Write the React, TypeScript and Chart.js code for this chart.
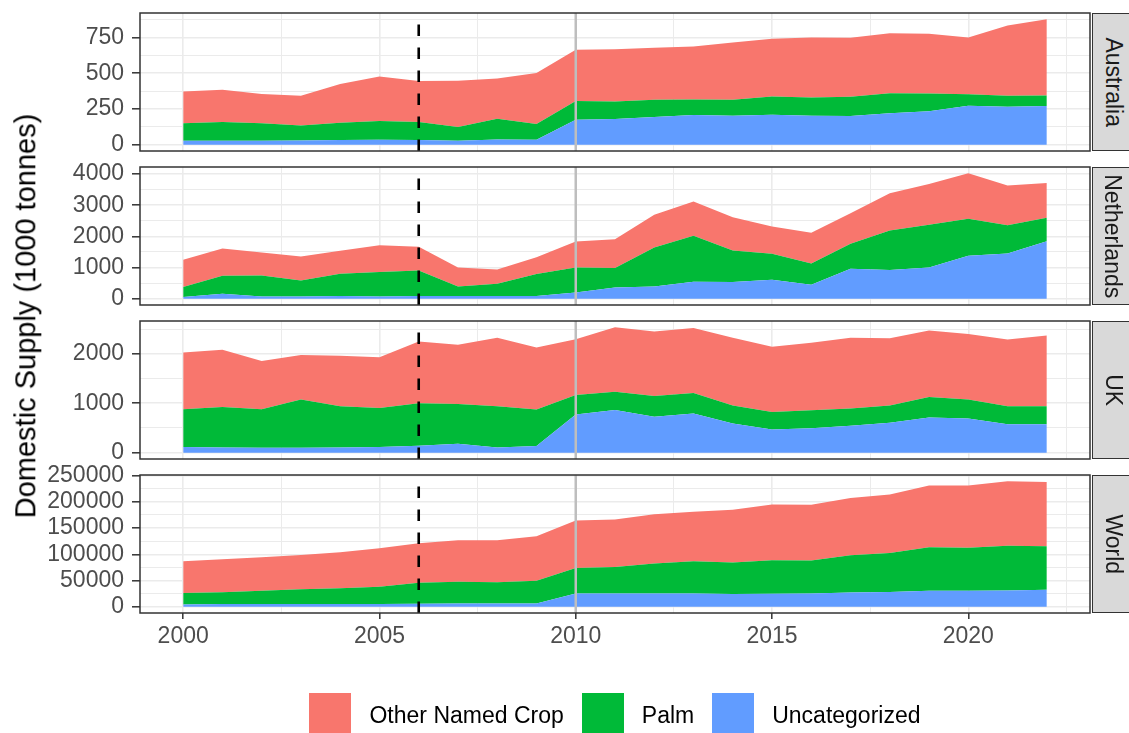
import React, { useEffect, useRef } from "react";
import { Chart, registerables } from "chart.js";

Chart.register(...registerables);

// ---- data -------------------------------------------------------------
const years = [
  2000, 2001, 2002, 2003, 2004, 2005, 2006, 2007, 2008, 2009, 2010, 2011,
  2012, 2013, 2014, 2015, 2016, 2017, 2018, 2019, 2020, 2021, 2022,
];

const seriesLabels = ["Other Named Crop", "Palm", "Uncategorized"];
const seriesColors = ["#F8766D", "#00BA38", "#619CFF"];

const regionNames = ["Australia", "Netherlands", "UK", "World"];

const australiaUncategorized = [28, 28, 28, 30, 33, 35, 33, 28, 37, 35, 175, 180, 194, 208, 203, 210, 203, 201, 220, 234, 273, 266, 271];
const australiaPalm = [122, 131, 122, 105, 121, 131, 126, 96, 145, 110, 131, 123, 121, 109, 112, 128, 128, 135, 141, 125, 81, 77, 74];
const australiaOther = [223, 226, 205, 208, 271, 312, 287, 324, 282, 357, 358, 366, 363, 370, 400, 403, 419, 412, 420, 417, 396, 491, 533];

const netherlandsUncategorized = [53, 160, 75, 75, 85, 75, 85, 85, 85, 85, 203, 363, 395, 544, 534, 608, 448, 960, 918, 1003, 1376, 1451, 1846];
const netherlandsPalm = [320, 576, 672, 512, 715, 779, 822, 310, 395, 705, 800, 619, 1248, 1473, 1013, 832, 683, 801, 1269, 1366, 1185, 907, 747];
const netherlandsOther = [875, 875, 736, 768, 736, 864, 757, 608, 459, 544, 832, 928, 1046, 1099, 1067, 875, 982, 981, 1195, 1312, 1462, 1270, 1120];

const ukUncategorized = [114, 107, 101, 101, 107, 114, 141, 181, 107, 134, 775, 866, 725, 792, 590, 470, 497, 544, 604, 711, 691, 577, 577];
const ukPalm = [765, 819, 778, 973, 832, 792, 859, 805, 832, 738, 393, 369, 423, 416, 363, 355, 362, 348, 349, 416, 383, 362, 362];
const ukOther = [1148, 1154, 973, 899, 1020, 1026, 1248, 1195, 1383, 1255, 1127, 1301, 1301, 1315, 1369, 1315, 1362, 1430, 1362, 1342, 1328, 1349, 1430];

const worldUncategorized = [4400, 5000, 5000, 5100, 5100, 5100, 5700, 6300, 6300, 6300, 25300, 25300, 25300, 25300, 24100, 24700, 25300, 27200, 27900, 30400, 30400, 31000, 32300];
const worldPalm = [21550, 22850, 25400, 28400, 30300, 32900, 39900, 41200, 40500, 43100, 48700, 50700, 57000, 61400, 60100, 63900, 62700, 70900, 74600, 82900, 82300, 85500, 82900];
const worldOther = [60750, 62650, 63900, 65200, 68400, 73400, 75300, 79100, 79800, 84800, 90600, 90500, 94300, 94300, 100600, 106400, 106300, 109500, 111500, 117700, 118300, 122800, 122800];

const australiaTicks = [0, 250, 500, 750];
const australiaMinorTicks = [125, 375, 625, 875];
const netherlandsTicks = [0, 1000, 2000, 3000, 4000];
const netherlandsMinorTicks = [500, 1500, 2500, 3500];
const ukTicks = [0, 1000, 2000];
const ukMinorTicks = [500, 1500, 2500];
const worldTicks = [0, 50000, 100000, 150000, 200000, 250000];
const worldMinorTicks = [25000, 75000, 125000, 175000, 225000];

const yearTicks = [2000, 2005, 2010, 2015, 2020];
const yearMinorTicks = [2002.5, 2007.5, 2012.5, 2017.5, 2022.5];

const dashedMarkerYear = 2006;
const solidMarkerYear = 2010;

const yTitle = "Domestic Supply (1000 tonnes)";

// ---- layout ------------------------------------------------------------
const W = 1129;
const H = 733;
const PANEL_LEFT = 140;
const PANEL_RIGHT = 1090;
const PANEL_TOPS = [13, 167, 321, 475];
const PANEL_H = 138;
const FONT = "'Liberation Sans', Arial, Helvetica, sans-serif";

type Panel = {
  name: string;
  uncategorized: number[];
  palm: number[];
  other: number[];
  ticks: number[];
  minorTicks: number[];
};

const panels: Panel[] = [
  { name: regionNames[0], uncategorized: australiaUncategorized, palm: australiaPalm, other: australiaOther, ticks: australiaTicks, minorTicks: australiaMinorTicks },
  { name: regionNames[1], uncategorized: netherlandsUncategorized, palm: netherlandsPalm, other: netherlandsOther, ticks: netherlandsTicks, minorTicks: netherlandsMinorTicks },
  { name: regionNames[2], uncategorized: ukUncategorized, palm: ukPalm, other: ukOther, ticks: ukTicks, minorTicks: ukMinorTicks },
  { name: regionNames[3], uncategorized: worldUncategorized, palm: worldPalm, other: worldOther, ticks: worldTicks, minorTicks: worldMinorTicks },
];

// Reference year markers and the panel frame, drawn over the areas.
const panelDecor = {
  id: "panelDecor",
  afterDatasetsDraw(chart: any) {
    const { ctx, chartArea } = chart;
    const { left, right, top, bottom } = chartArea;
    const xs = chart.scales.x;
    ctx.save();
    ctx.beginPath();
    ctx.rect(left, top, right - left, bottom - top);
    ctx.clip();
    const sx = xs.getPixelForValue(solidMarkerYear);
    ctx.strokeStyle = "#BEBEBE";
    ctx.lineWidth = 2.5;
    ctx.beginPath();
    ctx.moveTo(sx, top);
    ctx.lineTo(sx, bottom);
    ctx.stroke();
    const dx = xs.getPixelForValue(dashedMarkerYear);
    ctx.strokeStyle = "#000000";
    ctx.lineWidth = 2.6;
    ctx.setLineDash([11.5, 11.5]);
    ctx.beginPath();
    ctx.moveTo(dx, bottom);
    ctx.lineTo(dx, top);
    ctx.stroke();
    ctx.restore();
    ctx.save();
    ctx.strokeStyle = "#333333";
    ctx.lineWidth = 1.5;
    ctx.strokeRect(left, top, right - left, bottom - top);
    ctx.restore();
  },
};

function PanelChart({ panel, index }: { panel: Panel; index: number }) {
  const ref = useRef<HTMLCanvasElement | null>(null);

  useEffect(() => {
    if (!ref.current) return;
    const isLast = index === panels.length - 1;
    const top = PANEL_TOPS[index];
    const bottom = top + PANEL_H;

    const totals = years.map((_, k) => panel.uncategorized[k] + panel.palm[k] + panel.other[k]);
    const maxTotal = Math.max(...totals);
    const yMin = -0.05 * maxTotal;
    const yMax = 1.05 * maxTotal;
    const span = years[years.length - 1] - years[0];
    const xMin = years[0] - 0.05 * span;
    const xMax = years[years.length - 1] + 0.05 * span;

    // stacked bottom to top: Uncategorized, Palm, Other Named Crop
    const layers = [
      { label: seriesLabels[2], values: panel.uncategorized, color: seriesColors[2] },
      { label: seriesLabels[1], values: panel.palm, color: seriesColors[1] },
      { label: seriesLabels[0], values: panel.other, color: seriesColors[0] },
    ];

    const xTickValues = [...yearTicks, ...yearMinorTicks].sort((a, b) => a - b);
    const yTickValues = [...panel.ticks, ...panel.minorTicks].sort((a, b) => a - b);
    const isMinorX = (v: number) => !yearTicks.includes(v);
    const isMinorY = (v: number) => !panel.ticks.includes(v);

    const chart = new Chart(ref.current, {
      type: "line",
      data: {
        datasets: layers.map((l, i) => ({
          label: l.label,
          data: years.map((yr, k) => ({ x: yr, y: l.values[k] })),
          backgroundColor: l.color,
          borderColor: "rgba(0,0,0,0)",
          borderWidth: 0,
          pointRadius: 0,
          tension: 0,
          fill: i === 0 ? "origin" : "-1",
        })),
      },
      options: {
        responsive: false,
        animation: false,
        events: [],
        layout: {
          autoPadding: false,
          padding: {
            left: 0,
            right: W - PANEL_RIGHT,
            top,
            bottom: isLast ? 0 : H - bottom,
          },
        },
        plugins: {
          legend: { display: false },
          tooltip: { enabled: false },
        },
        scales: {
          x: {
            type: "linear",
            min: xMin,
            max: xMax,
            afterBuildTicks: (s: any) => {
              s.ticks = xTickValues.map((v) => ({ value: v }));
            },
            afterFit: (s: any) => {
              s.height = isLast ? H - bottom : 0;
              s.paddingLeft = 0;
              s.paddingRight = 0;
              s.paddingTop = 0;
              s.paddingBottom = 0;
            },
            border: { display: false },
            grid: {
              color: "#EBEBEB",
              lineWidth: (c: any) => (c.tick && isMinorX(c.tick.value) ? 1 : 1.6),
              drawTicks: isLast,
              tickLength: 6,
              tickWidth: 1.5,
              tickColor: (c: any) => (c.tick && isMinorX(c.tick.value) ? "rgba(0,0,0,0)" : "#333333"),
            },
            ticks: {
              display: isLast,
              autoSkip: false,
              maxRotation: 0,
              padding: 4,
              color: "#4D4D4D",
              font: { family: FONT, size: 23 },
              callback: (v: any) => (isMinorX(Number(v)) ? "" : String(v)),
            },
          },
          y: {
            type: "linear",
            stacked: true,
            min: yMin,
            max: yMax,
            afterBuildTicks: (s: any) => {
              s.ticks = yTickValues.map((v) => ({ value: v }));
            },
            afterFit: (s: any) => {
              s.width = PANEL_LEFT;
              s.paddingLeft = 0;
              s.paddingRight = 0;
              s.paddingTop = 0;
              s.paddingBottom = 0;
            },
            border: { display: false },
            grid: {
              color: "#EBEBEB",
              lineWidth: (c: any) => (c.tick && isMinorY(c.tick.value) ? 1 : 1.6),
              drawTicks: true,
              tickLength: 8,
              tickWidth: 1.5,
              tickColor: (c: any) => (c.tick && isMinorY(c.tick.value) ? "rgba(0,0,0,0)" : "#333333"),
            },
            ticks: {
              autoSkip: false,
              padding: 8,
              color: "#4D4D4D",
              font: { family: FONT, size: 23 },
              callback: (v: any) => (isMinorY(Number(v)) ? "" : String(v)),
            },
          },
        },
      },
      plugins: [panelDecor],
    } as any);

    return () => chart.destroy();
  }, [panel, index]);

  return (
    <canvas
      ref={ref}
      width={W}
      height={H}
      style={{ position: "absolute", left: 0, top: 0, width: W, height: H }}
    />
  );
}

export default function App() {
  const legendOrder = [0, 1, 2];
  return (
    <div
      style={{
        position: "absolute",
        left: 0,
        top: 0,
        width: W,
        height: H,
        overflow: "hidden",
        background: "#FFFFFF",
        fontFamily: FONT,
      }}
    >
      {panels.map((p, i) => (
        <PanelChart key={p.name} panel={p} index={i} />
      ))}

      {panels.map((p, i) => (
        <div
          key={"strip-" + p.name}
          style={{
            position: "absolute",
            left: PANEL_RIGHT + 2,
            top: PANEL_TOPS[i],
            width: 43,
            height: PANEL_H,
            boxSizing: "border-box",
            background: "#D9D9D9",
            border: "1.5px solid #333333",
            display: "flex",
            alignItems: "center",
            justifyContent: "center",
          }}
        >
          <div
            style={{
              transform: "rotate(90deg)",
              whiteSpace: "nowrap",
              fontSize: 23,
              color: "#1A1A1A",
              lineHeight: 1.15,
            }}
          >
            {p.name}
          </div>
        </div>
      ))}

      <div
        style={{
          position: "absolute",
          left: 25.5,
          top: 316,
          transform: "translate(-50%, -50%) rotate(-90deg)",
          whiteSpace: "nowrap",
          fontSize: 29,
          color: "#000000",
          lineHeight: 1.15,
        }}
      >
        {yTitle}
      </div>

      <div
        style={{
          position: "absolute",
          left: PANEL_LEFT,
          width: PANEL_RIGHT - PANEL_LEFT,
          top: 693,
          height: 44,
          display: "flex",
          justifyContent: "center",
          alignItems: "center",
        }}
      >
        {legendOrder.map((k, i) => (
          <div key={seriesLabels[k]} style={{ display: "flex", alignItems: "center", marginLeft: i === 0 ? 0 : 18 }}>
            <div style={{ width: 42, height: 44, background: seriesColors[k] }} />
            <span style={{ marginLeft: 18, fontSize: 23, color: "#000000", whiteSpace: "nowrap" }}>
              {seriesLabels[k]}
            </span>
          </div>
        ))}
      </div>
    </div>
  );
}
